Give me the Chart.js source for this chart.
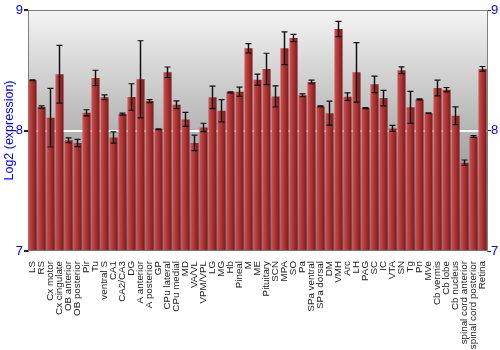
<!DOCTYPE html>
<html lang="en">
  <head>
    <meta charset="UTF-8" />
    <title>Log2 expression by region</title>
    <script src="https://cdn.jsdelivr.net/npm/chart.js"></script>
    <style>
      body { margin: 0; background: #fff; }
      #wrap { width: 500px; height: 350px; }
    </style>
  </head>
  <body>
    <div id="wrap"><canvas id="exprChart" width="500" height="350"></canvas></div>

    <script>
      const regions = ['LS', 'RS', 'Cx motor', 'Cx cingulate', 'OB anterior', 'OB posterior', 'Pir', 'Tu',
        'ventral S', 'CA1', 'CA2/CA3', 'DG', 'A anterior', 'A posterior', 'GP', 'CPu lateral', 'CPu medial',
        'MD', 'VA/VL', 'VPM/VPL', 'LG', 'MG', 'Hb', 'Pineal', 'M', 'ME', 'Pituitary', 'SCN', 'MPA', 'SO', 'Pa',
        'SPa ventral', 'SPa dorsal', 'DM', 'VMH', 'Arc', 'LH', 'PAG', 'SC', 'IC', 'VTA', 'SN', 'Tg', 'Pn', 'MVe',
        'Cb vermis', 'Cb lobe', 'Cb nucleus', 'spinal cord anterior', 'spinal cord posterior', 'Retina'];

      const expression = [8.417, 8.194, 8.106, 8.467, 7.919, 7.897, 8.147, 8.436,
        8.275, 7.942, 8.136, 8.278, 8.425, 8.244, 8.011, 8.483, 8.214,
        8.092, 7.897, 8.025, 8.275, 8.164, 8.317, 8.322, 8.683, 8.422, 8.511, 8.283, 8.683, 8.767, 8.292,
        8.403, 8.200, 8.144, 8.842, 8.281, 8.483, 8.186, 8.383, 8.269, 8.017, 8.500, 8.192, 8.258, 8.144,
        8.353, 8.339, 8.122, 7.733, 7.950, 8.511];

      const errors = [0.004, 0.010, 0.243, 0.240, 0.020, 0.030, 0.025, 0.064,
        0.020, 0.047, 0.008, 0.110, 0.320, 0.012, 0.003, 0.044, 0.032,
        0.058, 0.064, 0.035, 0.094, 0.092, 0.004, 0.038, 0.038, 0.046, 0.130, 0.088, 0.136, 0.030, 0.012,
        0.015, 0.005, 0.100, 0.063, 0.032, 0.247, 0.005, 0.068, 0.064, 0.025, 0.028, 0.133, 0.004, 0.003,
        0.065, 0.018, 0.074, 0.022, 0.008, 0.020];

      const yTicks = [7, 8, 9];

      const blue = '#0000ff';
      const fontFamily = "'Liberation Sans', Arial, sans-serif";

      // gray gradient behind the bars + top border
      const plotBackground = {
        id: 'plotBackground',
        beforeDraw(chart) {
          const { ctx, chartArea: a } = chart;
          const g = ctx.createLinearGradient(0, a.top, 0, a.bottom);
          g.addColorStop(0, '#f4f4f4');
          g.addColorStop(1, '#747474');
          ctx.save();
          ctx.fillStyle = g;
          ctx.fillRect(a.left, a.top, a.right - a.left, a.bottom - a.top);
          ctx.strokeStyle = '#808080';
          ctx.lineWidth = 1;
          ctx.beginPath();
          ctx.moveTo(a.left, a.top + 0.5);
          ctx.lineTo(a.right, a.top + 0.5);
          ctx.stroke();
          ctx.restore();
        }
      };

      // whiskers from the errors array
      const errorBars = {
        id: 'errorBars',
        afterDatasetsDraw(chart) {
          const { ctx } = chart;
          const y = chart.scales.y;
          const meta = chart.getDatasetMeta(0);
          ctx.save();
          meta.data.forEach((bar, i) => {
            const v = expression[i], e = errors[i];
            const top = y.getPixelForValue(v + e);
            const bot = y.getPixelForValue(v - e);
            ctx.strokeStyle = '#111';
            ctx.lineWidth = 1.5;
            ctx.beginPath();
            ctx.moveTo(bar.x, top);
            ctx.lineTo(bar.x, bot);
            ctx.stroke();
            ctx.lineWidth = 1.2;
            ctx.beginPath();
            ctx.moveTo(bar.x - 3, top);
            ctx.lineTo(bar.x + 3, top);
            ctx.moveTo(bar.x - 3, bot);
            ctx.lineTo(bar.x + 3, bot);
            ctx.stroke();
          });
          ctx.restore();
        }
      };

      function barFill(context) {
        const chart = context.chart;
        const xs = chart.scales.x;
        if (!chart.chartArea || !xs || context.dataIndex === undefined) return '#a83232';
        const x = xs.getPixelForValue(context.dataIndex);
        const w = (xs.width / regions.length) * 0.9;
        const g = chart.ctx.createLinearGradient(x - w / 2, 0, x + w / 2, 0);
        g.addColorStop(0, '#c95757');
        g.addColorStop(0.35, '#b73a3a');
        g.addColorStop(1, '#7c1a1a');
        return g;
      }

      const ctx = document.getElementById('exprChart').getContext('2d');
      const exprChart = new Chart(ctx, {
        type: 'bar',
        data: {
          labels: regions,
          datasets: [{
            data: expression,
            backgroundColor: barFill,
            borderWidth: 0,
            barPercentage: 0.9,
            categoryPercentage: 1.0,
            base: 7
          }]
        },
        options: {
          responsive: false,
          animation: false,
          layout: { padding: { top: 10, left: 0, right: 0, bottom: 0 } },
          plugins: {
            legend: { display: false },
            tooltip: { enabled: false }
          },
          scales: {
            x: {
              grid: { display: false },
              border: { display: false },
              ticks: {
                autoSkip: false,
                minRotation: 90,
                maxRotation: 90,
                padding: 2,
                color: '#222',
                font: { family: fontFamily, size: 9.8 }
              },
              afterFit(s) { s.height = 99; }
            },
            y: {
              position: 'left',
              min: 7,
              max: 9,
              afterBuildTicks(s) { s.ticks = yTicks.map(v => ({ value: v })); },
              grid: {
                color: c => (c.tick && c.tick.value === 8 ? '#ffffff' : 'rgba(0,0,0,0)'),
                lineWidth: 2,
                tickColor: '#222',
                tickLength: 4
              },
              border: { color: '#808080', width: 1 },
              ticks: {
                color: blue,
                padding: 1,
                font: { family: fontFamily, size: 13 }
              },
              title: {
                display: true,
                text: 'Log2 (expression)',
                color: blue,
                padding: { top: 2, bottom: 0 },
                font: { family: fontFamily, size: 12.5 }
              },
              afterFit(s) { s.width = 28; }
            },
            y2: {
              position: 'right',
              min: 7,
              max: 9,
              afterBuildTicks(s) { s.ticks = yTicks.map(v => ({ value: v })); },
              grid: {
                drawOnChartArea: false,
                tickColor: '#222',
                tickLength: 4
              },
              border: { color: '#808080', width: 1 },
              ticks: {
                color: blue,
                padding: 0,
                font: { family: fontFamily, size: 13 }
              },
              afterFit(s) { s.width = 13; }
            }
          }
        },
        plugins: [plotBackground, errorBars]
      });
    </script>
  </body>
</html>
